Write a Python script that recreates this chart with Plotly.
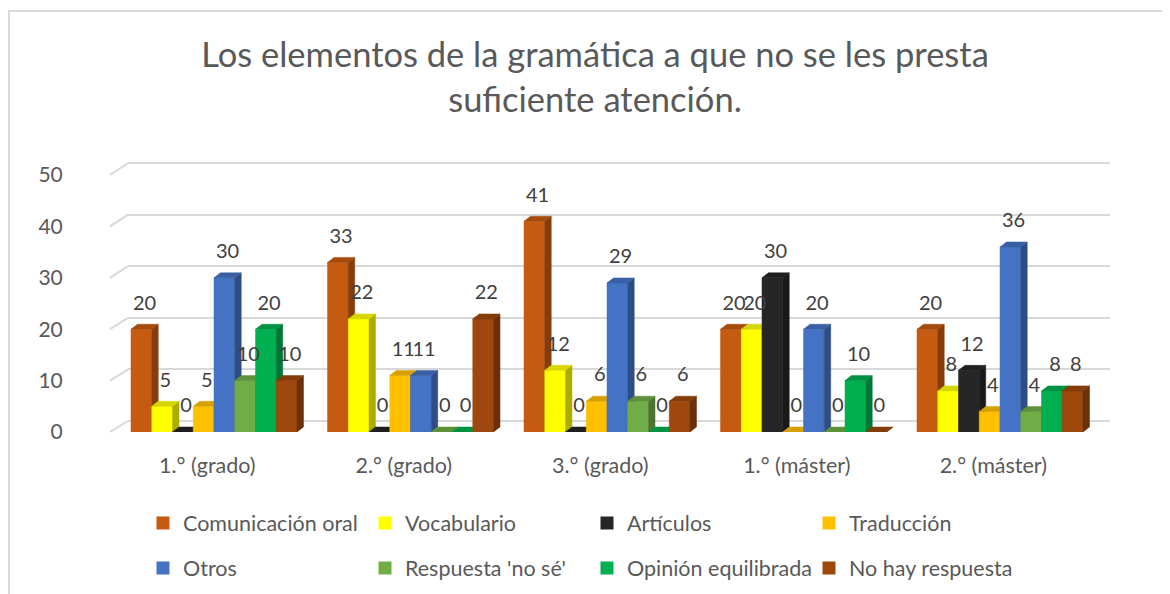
import plotly.graph_objects as go

# the page body has an 8px margin, so the figure is drawn 8px in from the corner
OFF = 8
W, H = 1170 - OFF, 594 - OFF

categories = ['1.° (grado)', '2.° (grado)', '3.° (grado)', '1.° (máster)', '2.° (máster)']
series_names = ['Comunicación oral', 'Vocabulario', 'Artículos', 'Traducción',
                'Otros', "Respuesta 'no sé'", 'Opinión equilibrada', 'No hay respuesta']

comunicacion_oral = [20, 33, 41, 20, 20]
vocabulario = [5, 22, 12, 20, 8]
articulos = [0, 0, 0, 30, 12]
traduccion = [5, 11, 6, 0, 4]
otros = [30, 11, 29, 20, 36]
respuesta_no_se = [10, 0, 6, 0, 4]
opinion_equilibrada = [20, 0, 0, 10, 8]
no_hay_respuesta = [10, 22, 6, 0, 8]

series_values = [comunicacion_oral, vocabulario, articulos, traduccion,
                 otros, respuesta_no_se, opinion_equilibrada, no_hay_respuesta]
colors = ['#C55A11', '#FFFF00', '#262626', '#FFC000',
          '#4472C4', '#70AD47', '#00B050', '#9E480E']

TEXT = '#595959'
GRID = '#d9d9d9'
FONT = 'Lato'


def shade(hex_color, f):
    h = hex_color.lstrip('#')
    r, g, b = (int(h[i:i + 2], 16) for i in (0, 2, 4))
    return '#%02x%02x%02x' % (int(r * f), int(g * f), int(b * f))


# screen pixel -> paper fraction
def px_x(p):
    return (p - OFF) / W


def px_y(p):
    return 1 - (p - OFF) / H


# bar geometry (category units / value units)
bar_w = 0.1056
depth_x = 0.033
depth_y = 0.97
n = len(series_values)

fig = go.Figure()

# back wall grid subplot (drawn first, so it sits below the bars)
fig.add_trace(go.Scatter(x=[None], y=[None], xaxis='x', yaxis='y',
                         showlegend=False, hoverinfo='skip'))

for i, (name, vals, col) in enumerate(zip(series_names, series_values, colors)):
    fx, fy, sx, sy, tx, ty = [], [], [], [], [], []
    for j, v in enumerate(vals):
        xl = j - n / 2 * bar_w + i * bar_w
        xr = xl + bar_w
        fx += [xl, xr, xr, xl, xl, None]
        fy += [0, 0, v, v, 0, None]
        sx += [xr, xr + depth_x, xr + depth_x, xr, xr, None]
        sy += [0, depth_y, v + depth_y, v, 0, None]
        tx += [xl, xr, xr + depth_x, xl + depth_x, xl, None]
        ty += [v, v, v + depth_y, v + depth_y, v, None]
    for xs, ys, c in ((fx, fy, col), (sx, sy, shade(col, 0.68)), (tx, ty, shade(col, 0.84))):
        fig.add_trace(go.Scatter(
            x=xs, y=ys, xaxis='x2', yaxis='y2', mode='lines', fill='toself',
            fillcolor=c, line=dict(color=c, width=0.5),
            showlegend=False, hoverinfo='skip'))

# data labels
for i, (name, vals) in enumerate(zip(series_names, series_values)):
    xs = [j - n / 2 * bar_w + (i + 0.5) * bar_w + depth_x / 2 for j in range(len(vals))]
    fig.add_trace(go.Scatter(
        x=xs, y=[v + 4.8 for v in vals], xaxis='x2', yaxis='y2', mode='text',
        text=[str(v) for v in vals], textposition='middle center',
        textfont=dict(family=FONT, size=20, color='#404040'),
        showlegend=False, hoverinfo='skip'))

# legend entries
for i, (name, col) in enumerate(zip(series_names, colors)):
    fig.add_trace(go.Scatter(
        x=[None], y=[None], xaxis='x2', yaxis='y2', mode='markers', name=name,
        marker=dict(symbol='square', size=13, color=col),
        legend='legend' if i < 4 else 'legend2'))

# slanted grid ends on the left side
shapes = []
for v in range(0, 51, 10):
    yf = 432 - v * (432 - 175) / 50
    yb = 421 - v * (421 - 163) / 50
    shapes.append(dict(type='line', xref='paper', yref='paper',
                       x0=px_x(110), y0=px_y(yf), x1=px_x(128), y1=px_y(yb),
                       line=dict(color=GRID, width=2), layer='below'))
# chart frame
shapes.append(dict(type='rect', xref='paper', yref='paper',
                   x0=px_x(9), y0=-0.05, x1=1.05, y1=px_y(11),
                   line=dict(color=GRID, width=2), layer='below'))

legend_common = dict(orientation='h', xanchor='left', yanchor='middle',
                     entrywidth=177, entrywidthmode='pixels',
                     bgcolor='rgba(0,0,0,0)',
                     font=dict(family=FONT, size=21.5, color=TEXT))

# back wall: 0 -> 421px, 50 -> 163px; pad the range a little so the edge lines draw
pad = 0.2
unit = (421 - 163) / 50

fig.update_layout(
    width=W, height=H,
    margin=dict(l=0, r=0, t=0, b=0, autoexpand=False),
    paper_bgcolor='white', plot_bgcolor='rgba(0,0,0,0)',
    font=dict(family=FONT, color=TEXT),
    title=dict(text='Los elementos de la gramática a que no se les presta<br>suficiente atención.',
               x=px_x(595), xanchor='center', y=px_y(67), yanchor='middle',
               font=dict(family=FONT, size=34.5, color=TEXT)),
    xaxis=dict(domain=[px_x(128), px_x(1110)], range=[-0.5, 4.5], anchor='y',
               showgrid=False, zeroline=False, showticklabels=False, fixedrange=True),
    yaxis=dict(domain=[px_y(421 + pad * unit), px_y(163 - pad * unit)],
               range=[-pad, 50 + pad], anchor='x', dtick=10,
               showgrid=True, gridcolor=GRID, gridwidth=2,
               zeroline=True, zerolinecolor=GRID, zerolinewidth=2,
               showticklabels=False, fixedrange=True),
    xaxis2=dict(domain=[px_x(115.75), px_x(1098.25)], range=[-0.5, 4.5], anchor='y2',
                showgrid=False, zeroline=False,
                tickmode='array', tickvals=[j - 0.034 for j in range(len(categories))],
                ticktext=categories, ticks='', ticklabelstandoff=18,
                tickfont=dict(family=FONT, size=21.5, color=TEXT), fixedrange=True),
    yaxis2=dict(domain=[px_y(432), px_y(175)], range=[0, 50], anchor='x2', dtick=10,
                showgrid=False, zeroline=False, ticks='', ticklabelstandoff=52,
                tickfont=dict(family=FONT, size=21, color=TEXT), fixedrange=True),
    legend=dict(x=px_x(143), y=px_y(523), **legend_common),
    legend2=dict(x=px_x(143), y=px_y(568), **legend_common),
    shapes=shapes,
)

fig.write_html('out.html')
